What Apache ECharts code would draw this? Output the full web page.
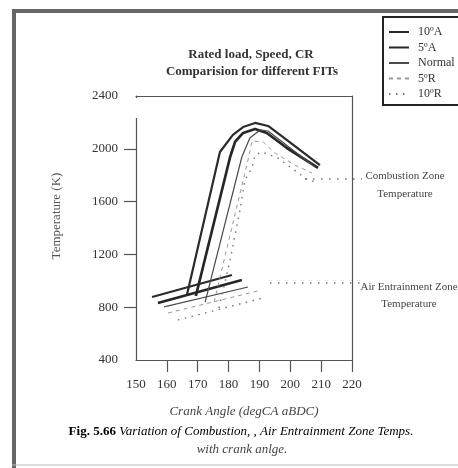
<!DOCTYPE html>
<html>
<head>
<meta charset="utf-8">
<title>Combustion / Air Entrainment Zone Temps</title>
<script src="https://cdn.jsdelivr.net/npm/echarts@6/dist/echarts.min.js"></script>
<style>
  html, body { margin: 0; padding: 0; background: #fff; }
  #chart { width: 458px; height: 468px; }
</style>
</head>
<body>
<div id="chart"></div>
<script>
// FIT cases, in legend order
const fitNames = ['10ºA', '5ºA', 'Normal', '5ºR', '10ºR']

// combustion zone temperature, [crank angle (deg), T (K)]
const combA10 = [[166.5, 892], [177.2, 1976], [181.4, 2105], [184.7, 2165], [188.6, 2196], [192.8, 2173], [196.7, 2105], [209.6, 1877]]
const combA5 = [[169.4, 885], [180.5, 1938], [182.1, 2052], [184.7, 2120], [188.6, 2150], [192.4, 2120], [198.9, 2006], [209.0, 1855]]
const combNormal = [[172.4, 839], [184.3, 1938], [186.9, 2082], [190.2, 2143], [192.8, 2135], [208.0, 1862]]
const combR5 = [[175.3, 839], [186.3, 1915], [187.6, 2059], [191.2, 2052], [195.0, 1968], [201.5, 1877], [207.0, 1817]]
const combR10 = [[176.9, 794], [180.5, 1158], [183.7, 1536], [185.3, 1764], [187.6, 1855], [188.6, 1953], [190.8, 1976], [196.0, 1930], [205.7, 1764], [208.0, 1749]]

// air entrainment zone temperature
const airA10 = [[155.2, 877], [181.1, 1044]]
const airA5 = [[157.1, 832], [184.3, 1006]]
const airNormal = [[159.1, 802], [186.3, 953]]
const airR5 = [[160.4, 756], [189.5, 923]]
const airR10 = [[163.6, 703], [191.2, 870]]

const combData = [combA10, combA5, combNormal, combR5, combR10]
const airData = [airA10, airA5, airNormal, airR5, airR10]

// ticks
const xTickVals = [160, 170, 180, 190, 200, 210, 220]
const yTickVals = [800, 1200, 1600, 2000]

const serif = '"Liberation Serif", "DejaVu Serif", serif'

// line look per FIT
const lineStyles = [
  { color: '#2b2b2b', width: 2.2, type: 'solid' },
  { color: '#262626', width: 2.7, type: 'solid' },
  { color: '#4a4a4a', width: 1.2, type: 'solid' },
  { color: '#9a9a9a', width: 1, type: [4, 4] },
  { color: '#7a7a7a', width: 1.5, type: [1.5, 5.5] }
]

const series = []
fitNames.forEach((name, i) => {
  ;[combData[i], airData[i]].forEach((d) => {
    series.push({
      name: name,
      type: 'line',
      data: d,
      symbol: 'none',
      silent: true,
      itemStyle: { color: lineStyles[i].color },
      lineStyle: lineStyles[i]
    })
  })
})

const chart = echarts.init(document.getElementById('chart'))

const axisLineStyle = { color: '#555', width: 1.2 }
const plainNum = (v) => String(v)

const option = {
  backgroundColor: '#fff',
  animation: false,
  grid: { left: 136, right: 106, top: 96, bottom: 108 },
  legend: {
    data: fitNames,
    orient: 'vertical',
    left: 383,
    top: 17,
    padding: [8, 14, 4, 5],
    itemWidth: 20,
    itemHeight: 10,
    itemGap: 1.5,
    borderColor: '#222',
    borderWidth: 2,
    backgroundColor: '#fff',
    selectedMode: false,
    // only the line sample, no symbol dot
    itemStyle: { color: 'transparent', borderWidth: 0, opacity: 0 },
    textStyle: { fontFamily: serif, fontSize: 12, lineHeight: 14, color: '#333', padding: [0, 0, 0, 4] }
  },
  xAxis: [
    {
      type: 'value',
      min: 150,
      max: 220,
      interval: 10,
      axisLine: { show: true, lineStyle: axisLineStyle },
      axisTick: { show: true, length: 12, customValues: xTickVals, lineStyle: axisLineStyle },
      axisLabel: { margin: 18, fontFamily: serif, fontSize: 13, color: '#333', formatter: plainNum },
      splitLine: { show: false },
      name: 'Crank Angle (degCA aBDC)',
      nameLocation: 'middle',
      nameGap: 45,
      nameTextStyle: { fontFamily: serif, fontStyle: 'italic', fontSize: 13, color: '#444' }
    },
    {
      type: 'value',
      min: 150,
      max: 220,
      position: 'top',
      axisLine: { show: true, lineStyle: axisLineStyle },
      axisTick: { show: false },
      axisLabel: { show: false },
      splitLine: { show: false }
    }
  ],
  yAxis: [
    {
      type: 'value',
      min: 400,
      max: 2400,
      interval: 400,
      axisLine: { show: true, lineStyle: axisLineStyle },
      axisTick: { show: true, length: 12, customValues: yTickVals, lineStyle: axisLineStyle },
      axisLabel: { margin: 18, fontFamily: serif, fontSize: 13, color: '#333', formatter: plainNum },
      splitLine: { show: false }
    },
    {
      type: 'value',
      min: 400,
      max: 2400,
      position: 'right',
      axisLine: { show: true, lineStyle: axisLineStyle },
      axisTick: { show: false },
      axisLabel: { show: false },
      splitLine: { show: false }
    }
  ],
  series: series,
  graphic: [
    // scanned page frame
    { type: 'line', shape: { x1: 12, y1: 11, x2: 458, y2: 11 }, style: { stroke: '#666', lineWidth: 4 } },
    { type: 'line', shape: { x1: 14, y1: 9, x2: 14, y2: 468 }, style: { stroke: '#666', lineWidth: 4 } },
    { type: 'line', shape: { x1: 12, y1: 465, x2: 458, y2: 465 }, style: { stroke: '#bbb', lineWidth: 1 } },
    // gap at top of the left axis line
    { type: 'rect', shape: { x: 133, y: 98, width: 6, height: 20 }, style: { fill: '#fff' }, z: 100 },
    // title
    {
      type: 'text',
      style: { text: 'Rated load, Speed, CR', x: 251, y: 55, font: 'bold 13px ' + serif, fill: '#333', textAlign: 'center', align: 'center', textVerticalAlign: 'middle', verticalAlign: 'middle' }
    },
    {
      type: 'text',
      style: { text: 'Comparision for different FITs', x: 252, y: 72, font: 'bold 13px ' + serif, fill: '#333', textAlign: 'center', align: 'center', textVerticalAlign: 'middle', verticalAlign: 'middle' }
    },
    // y axis name
    {
      type: 'text',
      x: 57,
      y: 216,
      rotation: Math.PI / 2,
      style: { text: 'Temperature (K)', font: '13px ' + serif, fill: '#555', textAlign: 'center', align: 'center', textVerticalAlign: 'middle', verticalAlign: 'middle' }
    },
    // zone leaders + notes
    { type: 'line', shape: { x1: 305, y1: 179, x2: 362, y2: 179 }, style: { stroke: '#777', lineWidth: 1.3, lineDash: [1.5, 6.5] } },
    { type: 'line', shape: { x1: 270, y1: 283, x2: 362, y2: 283 }, style: { stroke: '#777', lineWidth: 1.3, lineDash: [1.5, 6.5] } },
    {
      type: 'text',
      style: { text: 'Combustion Zone', x: 405, y: 176, font: '11px ' + serif, fill: '#444', textAlign: 'center', align: 'center', textVerticalAlign: 'middle', verticalAlign: 'middle' }
    },
    {
      type: 'text',
      style: { text: 'Temperature', x: 405, y: 194, font: '11px ' + serif, fill: '#444', textAlign: 'center', align: 'center', textVerticalAlign: 'middle', verticalAlign: 'middle' }
    },
    {
      type: 'text',
      style: { text: 'Air Entrainment Zone', x: 409, y: 287, font: '11px ' + serif, fill: '#444', textAlign: 'center', align: 'center', textVerticalAlign: 'middle', verticalAlign: 'middle' }
    },
    {
      type: 'text',
      style: { text: 'Temperature', x: 409, y: 304, font: '11px ' + serif, fill: '#444', textAlign: 'center', align: 'center', textVerticalAlign: 'middle', verticalAlign: 'middle' }
    },
    // figure caption
    {
      type: 'text',
      style: {
        text: '{b|Fig. 5.66} {i|Variation of Combustion, , Air Entrainment Zone Temps.}',
        x: 241,
        y: 432,
        textAlign: 'center',
        align: 'center',
        textVerticalAlign: 'middle',
        verticalAlign: 'middle',
        rich: {
          b: { fontFamily: serif, fontSize: 13, fontWeight: 'bold', color: '#222' },
          i: { fontFamily: serif, fontSize: 13, fontStyle: 'italic', color: '#444' }
        }
      }
    },
    {
      type: 'text',
      style: { text: 'with crank anlge.', x: 242, y: 450, font: 'italic 13px ' + serif, fill: '#444', textAlign: 'center', align: 'center', textVerticalAlign: 'middle', verticalAlign: 'middle' }
    }
  ]
}

chart.setOption(option)
window.addEventListener('resize', () => chart.resize())
</script>
</body>
</html>
